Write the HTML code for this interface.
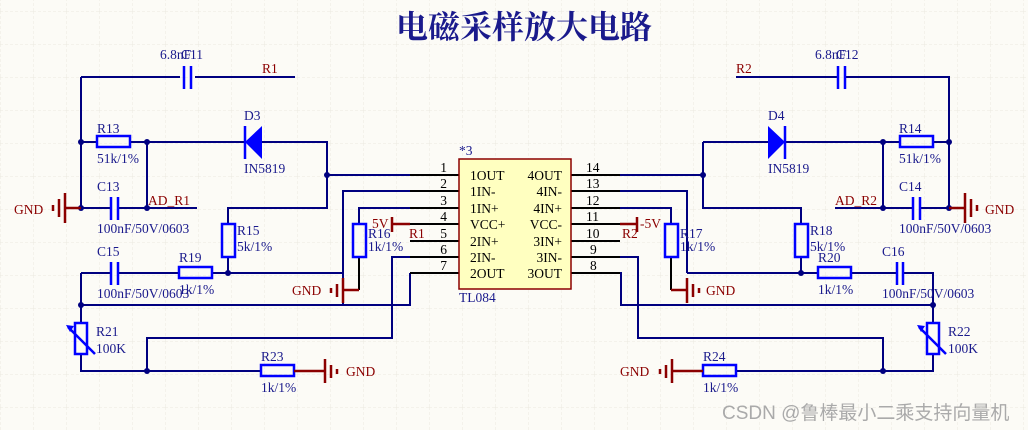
<!DOCTYPE html>
<html><head><meta charset="utf-8"><style>
html,body{margin:0;padding:0;background:#fcfbf6;}
svg{display:block;}
text{font-family:"Liberation Serif","Noto Serif CJK SC",serif;font-size:13.5px;fill:#1a1a8c;}
.r{fill:#8b0000;}
</style></head><body>
<svg width="1028" height="430" viewBox="0 0 1028 430" xmlns="http://www.w3.org/2000/svg">
<defs><pattern id="g" width="33" height="33" patternUnits="userSpaceOnUse" x="0" y="11">
<path d="M0 0H33M0 0V33" stroke="#ebe9e0" stroke-width="1" stroke-dasharray="3,2" fill="none"/></pattern></defs>
<rect width="1028" height="430" fill="#fcfbf6"/>
<rect width="1028" height="430" fill="url(#g)"/>
<text x="524" y="38" text-anchor="middle" style="font-size:32px;fill:#1a1a8c;font-weight:bold">电磁采样放大电路</text>

<g stroke="#000080" stroke-width="2" fill="none">
<path d="M81 77H180M195 77H295"/>
<path d="M81 77V208"/>
<path d="M81 142H97M130 142H245M262 142H327V208H228V224"/>
<path d="M327 175H410"/>
<path d="M147 142V208"/>
<path d="M81 208H110M118 208H197"/>
<path d="M228 257V273"/>
<path d="M81 273H110M118 273H179M212 273H343V191H410"/>
<path d="M343 273V305"/>
<path d="M359 224V208H410"/>
<path d="M410 257H392V338H147V371"/>
<path d="M410 273V305H81"/>
<path d="M81 273V323M81 354V371H261"/>
<path d="M736 77H838M845 77H949V208"/>
<path d="M620 175H703"/>
<path d="M703 142V208H801V224"/>
<path d="M703 142H768M785 142H899M933 142H949"/>
<path d="M883 142V208"/>
<path d="M835 208H913M920 208H949"/>
<path d="M620 191H687V273"/>
<path d="M620 208H671V224"/>
<path d="M801 257V273"/>
<path d="M687 273H818M851 273H897M903 273H933V323M933 354V371H736"/>
<path d="M620 257H638V338H883V371"/>
<path d="M620 273H621V305H933"/>
</g>
<g stroke="#000" stroke-width="2">
<path d="M410 175H459M410 191H459M410 208H459M410 224H459M410 241H459M410 257H459M410 273H459"/>
<path d="M571 175H620M571 191H620M571 208H620M571 224H620M571 241H620M571 257H620M571 273H620"/>
<path d="M359 257V290M671 257V290"/>
</g>
<g fill="#000080">
<circle cx="81" cy="142" r="3"/><circle cx="147" cy="142" r="3"/><circle cx="81" cy="208" r="3"/><circle cx="147" cy="208" r="3"/>
<circle cx="327" cy="175" r="3"/><circle cx="228" cy="273" r="3"/><circle cx="81" cy="305" r="3"/><circle cx="147" cy="371" r="3"/>
<circle cx="703" cy="175" r="3"/><circle cx="883" cy="142" r="3"/><circle cx="949" cy="142" r="3"/><circle cx="883" cy="208" r="3"/><circle cx="949" cy="208" r="3"/>
<circle cx="801" cy="273" r="3"/><circle cx="933" cy="305" r="3"/><circle cx="883" cy="371" r="3"/>
</g>
<g stroke="#0000ff" stroke-width="2.5" fill="none">
<path d="M184 66V89M191 66V89"/>
<path d="M838 66V89M845 66V89"/>
<path d="M111 197V220M118 197V220"/>
<path d="M111 262V285M118 262V285"/>
<path d="M913 197V220M920 197V220"/>
<path d="M897 262V285M903 262V285"/>
<rect x="97" y="136" width="33" height="11"/>
<rect x="900" y="136" width="33" height="11"/>
<rect x="222" y="224" width="13" height="33"/>
<rect x="353" y="224" width="13" height="33"/>
<rect x="665" y="224" width="13" height="33"/>
<rect x="795" y="224" width="13" height="33"/>
<rect x="179" y="267" width="33" height="11"/>
<rect x="818" y="267" width="33" height="11"/>
<rect x="261" y="365" width="33" height="11"/>
<rect x="703" y="365" width="33" height="11"/>
<rect x="75" y="323" width="12" height="31"/>
<rect x="927" y="323" width="12" height="31"/>
<path d="M68 327L95 354M919 327L946 354"/>
<path d="M245 126V159M785 126V159"/>
</g>
<g fill="#0000ff"><polygon points="245,142 262,126 262,159"/><polygon points="785,142 768,126 768,159"/>
<polygon points="66,325 74,326 70,332"/><polygon points="917,325 925,326 921,332"/></g>
<g stroke="#8b0000" stroke-width="2.5" fill="none">
<path d="M81 208H65M65 193V223M59 199V217M53 205V211"/>
<path d="M949 208H965M965 193V223M971 199V217M977 205V211"/>
<path d="M359 290H343M343 278V303M337 284V297M331 288V293"/>
<path d="M671 290H687M687 278V303M693 284V297M699 288V293"/>
<path d="M294 371H325M325 359V383M331 365V378M337 369V374"/>
<path d="M703 371H672M672 359V383M666 365V378M660 369V374"/>
<path d="M410 224H392M392 217V232"/>
<path d="M620 224H637M637 217V232"/>
</g>
<rect x="459" y="159" width="112" height="130" fill="#ffffc0" stroke="#8b0000" stroke-width="1.5"/>
<g>
<text x="470" y="180" style="fill:#000">1OUT</text><text x="470" y="196" style="fill:#000">1IN-</text><text x="470" y="213" style="fill:#000">1IN+</text><text x="470" y="229" style="fill:#000">VCC+</text><text x="470" y="246" style="fill:#000">2IN+</text><text x="470" y="262" style="fill:#000">2IN-</text><text x="470" y="278" style="fill:#000">2OUT</text>
<g text-anchor="end"><text x="562" y="180" style="fill:#000">4OUT</text><text x="562" y="196" style="fill:#000">4IN-</text><text x="562" y="213" style="fill:#000">4IN+</text><text x="562" y="229" style="fill:#000">VCC-</text><text x="562" y="246" style="fill:#000">3IN+</text><text x="562" y="262" style="fill:#000">3IN-</text><text x="562" y="278" style="fill:#000">3OUT</text></g>
<g text-anchor="end"><text x="447" y="172" style="fill:#000">1</text><text x="447" y="188" style="fill:#000">2</text><text x="447" y="205" style="fill:#000">3</text><text x="447" y="221" style="fill:#000">4</text><text x="447" y="238" style="fill:#000">5</text><text x="447" y="254" style="fill:#000">6</text><text x="447" y="270" style="fill:#000">7</text></g>
<g><text x="586" y="172" style="fill:#000">14</text><text x="586" y="188" style="fill:#000">13</text><text x="586" y="205" style="fill:#000">12</text><text x="586" y="221" style="fill:#000">11</text><text x="586" y="238" style="fill:#000">10</text><text x="590" y="254" style="fill:#000">9</text><text x="590" y="270" style="fill:#000">8</text></g>
<text x="459" y="155">*3</text><text x="459" y="302">TL084</text>
</g>
<text x="160" y="59">6.8nF</text><text x="181" y="59">C11</text>
<text x="815" y="59">6.8nF</text><text x="836" y="59">C12</text>
<text class="r" x="262" y="73">R1</text><text class="r" x="736" y="73">R2</text>
<text x="97" y="133">R13</text><text x="97" y="163">51k/1%</text>
<text x="244" y="120">D3</text><text x="244" y="173">IN5819</text>
<text x="97" y="191">C13</text><text x="97" y="233">100nF/50V/0603</text>
<text class="r" x="148" y="205">AD_R1</text>
<text x="237" y="235">R15</text><text x="237" y="251">5k/1%</text>
<text x="97" y="256">C15</text><text x="97" y="298">100nF/50V/0603</text>
<text x="179" y="262">R19</text><text x="179" y="294">1k/1%</text>
<text x="368" y="238">R16</text><text x="368" y="251">1k/1%</text>
<text class="r" x="372" y="228">5V</text><text class="r" x="409" y="238">R1</text>
<text x="96" y="336">R21</text><text x="96" y="353">100K</text>
<text x="261" y="361">R23</text><text x="261" y="392">1k/1%</text>
<text class="r" x="14" y="214">GND</text><text class="r" x="292" y="295">GND</text><text class="r" x="346" y="376">GND</text>
<text x="768" y="120">D4</text><text x="768" y="173">IN5819</text>
<text x="899" y="133">R14</text><text x="899" y="163">51k/1%</text>
<text x="899" y="191">C14</text><text x="899" y="233">100nF/50V/0603</text>
<text class="r" x="835" y="205">AD_R2</text>
<text class="r" x="640" y="228">-5V</text><text class="r" x="622" y="238">R2</text>
<text x="680" y="238">R17</text><text x="680" y="251">1k/1%</text>
<text x="810" y="235">R18</text><text x="810" y="251">5k/1%</text>
<text x="818" y="262">R20</text><text x="818" y="294">1k/1%</text>
<text x="882" y="256">C16</text><text x="882" y="298">100nF/50V/0603</text>
<text x="948" y="336">R22</text><text x="948" y="353">100K</text>
<text x="703" y="361">R24</text><text x="703" y="392">1k/1%</text>
<text class="r" x="985" y="214">GND</text><text class="r" x="706" y="295">GND</text><text class="r" x="620" y="376">GND</text>
<text x="722" y="419" style="font-family:'Liberation Sans','Noto Sans CJK SC',sans-serif;font-size:19px;fill:#aaa">CSDN @鲁棒最小二乘支持向量机</text>
</svg>
</body></html>
